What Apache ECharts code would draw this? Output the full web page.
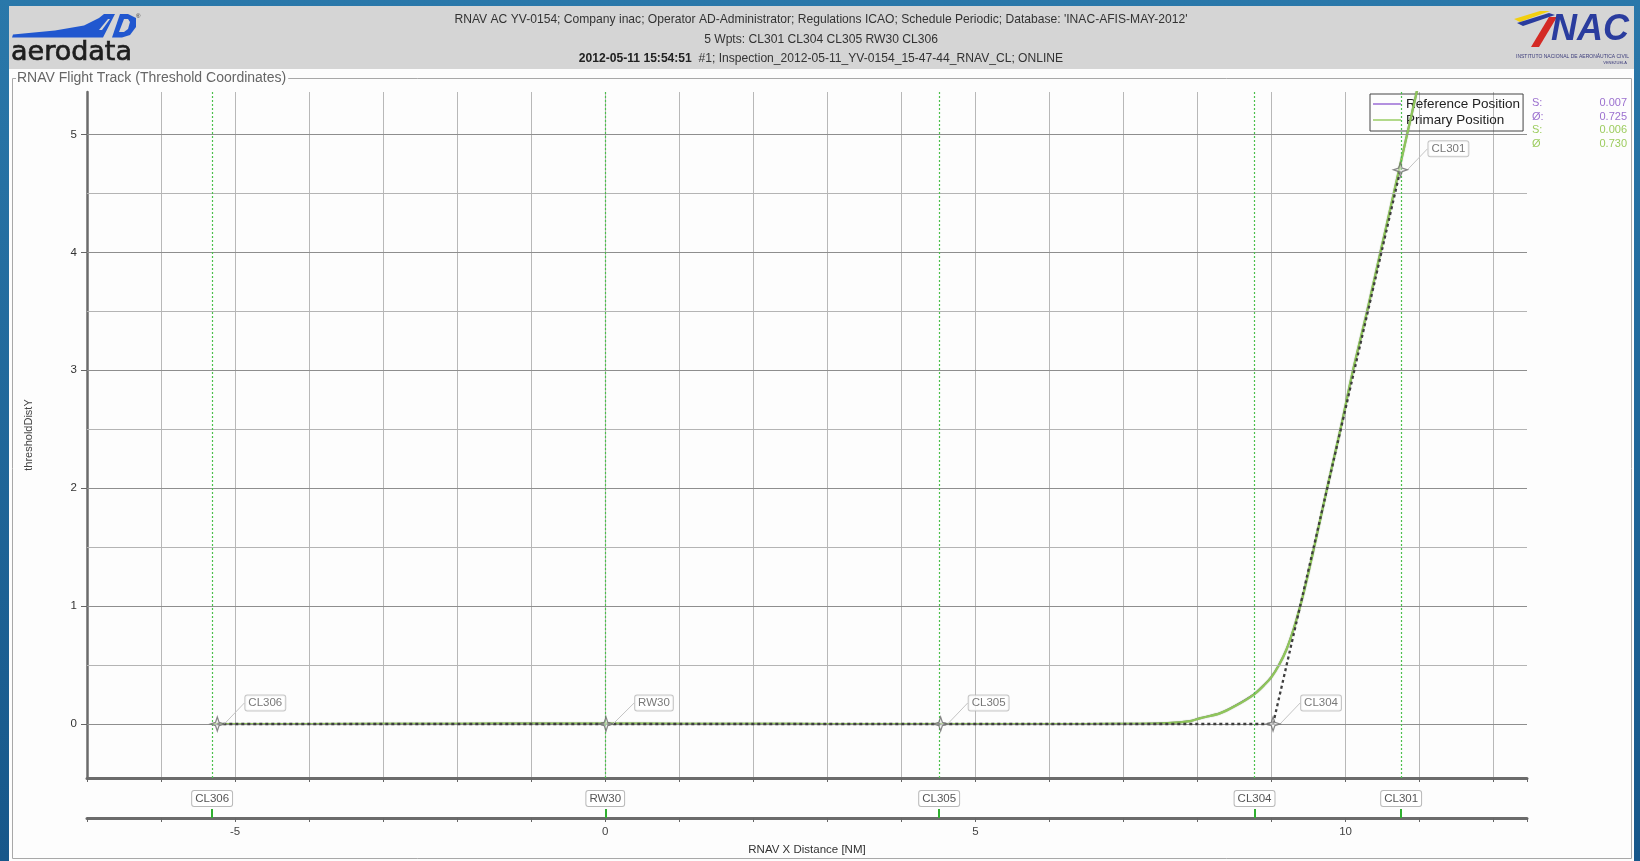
<!DOCTYPE html>
<html><head><meta charset="utf-8">
<script src="https://cdn.jsdelivr.net/npm/echarts@6.0.0/dist/echarts.min.js"></script>
<style>html,body{margin:0;padding:0;background:#1d6496;overflow:hidden}#c{width:1640px;height:861px;}</style>
</head><body><div id="c"></div><script>
// ---------- data ----------
const waypointNames = ['CL306', 'RW30', 'CL305', 'CL304', 'CL301'];
const waypointX = [-5.24, 0.01, 4.53, 9.02, 10.74];
const waypointY = [0, 0, 0, 0, 4.70];
const waypointLineX = [-5.31, 0.0, 4.51, 8.77, 10.75];

const primaryX = [-5.30, -4, -2, -1, 0, 1, 2, 3, 4.5, 5.5, 6.5, 7.2, 7.6, 7.9, 8.04, 8.3, 8.5, 8.76, 8.9, 9.0, 9.1, 9.2, 9.3, 9.4, 9.5, 9.6, 9.75, 9.93, 10.10, 10.29, 10.47, 10.65, 10.83, 10.96, 11.02];
const primaryY = [0, 0, 0.002, 0.004, 0.003, 0.002, 0.001, 0, 0, 0, 0, 0.002, 0.008, 0.025, 0.05, 0.09, 0.15, 0.25, 0.33, 0.40, 0.50, 0.63, 0.81, 1.03, 1.29, 1.57, 2.0, 2.5, 3.0, 3.5, 4.0, 4.5, 5.0, 5.36, 5.55];
const referenceX = [-5.30, -4, -2, -1, 0, 1, 2, 3, 4.5, 5.5, 6.5, 7.2, 7.6, 7.9, 8.04, 8.3, 8.5, 8.76, 8.9, 9.0, 9.1, 9.2, 9.3, 9.4, 9.5, 9.6, 9.75, 9.93, 10.10, 10.29, 10.47, 10.65, 10.83, 10.96, 11.02];
const referenceY = [0, 0, 0.002, 0.005, 0.003, 0.002, 0.001, 0, 0, 0, 0, 0.002, 0.009, 0.027, 0.052, 0.092, 0.155, 0.255, 0.335, 0.405, 0.505, 0.635, 0.815, 1.035, 1.29, 1.57, 2.0, 2.5, 3.0, 3.5, 4.0, 4.5, 5.0, 5.36, 5.55];

const yTickValues = [0, 1, 2, 3, 4, 5];
const yGridValues = [0, 0.5, 1, 1.5, 2, 2.5, 3, 3.5, 4, 4.5, 5];
const xLabelValues = [-5, 0, 5, 10];

const statLabels = ['S:', 'Ø:', 'S:', 'Ø'];
const statValues = ['0.007', '0.725', '0.006', '0.730'];
const statColors = ['#9b70cf', '#9b70cf', '#9ccc5e', '#9ccc5e'];

const headerLine1 = "RNAV AC YV-0154; Company inac; Operator AD-Administrator; Regulations ICAO; Schedule Periodic; Database: 'INAC-AFIS-MAY-2012'";
const headerLine2 = '5 Wpts: CL301 CL304 CL305 RW30 CL306';
const headerLine3a = '2012-05-11 15:54:51';
const headerLine3b = '  #1; Inspection_2012-05-11_YV-0154_15-47-44_RNAV_CL; ONLINE';
const panelTitle = 'RNAV Flight Track (Threshold Coordinates)';

// ---------- chart ----------
const FONT = "'Liberation Sans', Arial, sans-serif";
const chart = echarts.init(document.getElementById('c'), null, {renderer: 'canvas'});
const zip = (xs, ys) => xs.map((x, i) => [x, ys[i]]);
const starPath = 'path://M0,-10 L2.5,-2.5 L10,0 L2.5,2.5 L0,10 L-2.5,2.5 L-10,0 L-2.5,-2.5 Z';
const XMIN = -7, XMAX = 12.45, YMIN = -0.458, YMAX = 5.36;

const statGraphics = [];
statLabels.forEach((s, i) => {
  statGraphics.push({type: 'text', z: 20, style: {text: s, x: 1532, y: 103 + i * 13.6, fill: statColors[i], font: '11px ' + FONT, textVerticalAlign: 'middle'}});
  statGraphics.push({type: 'text', z: 20, style: {text: statValues[i], x: 1627, y: 103 + i * 13.6, fill: statColors[i], font: '11px ' + FONT, textAlign: 'right', textVerticalAlign: 'middle'}});
});

const option = {
  animation: false,
  textStyle: {fontFamily: FONT},
  grid: {left: 87, top: 92, width: 1440, height: 693, containLabel: false},
  legend: {
    data: ['Reference Position', 'Primary Position'],
    orient: 'vertical', left: 1370, top: 94,
    icon: 'path://M0,0 L30,0 L30,1.6 L0,1.6 Z',
    itemWidth: 28, itemHeight: 1.6, itemGap: 2,
    padding: [3, 3, 4, 3],
    borderColor: '#444', borderWidth: 1,
    textStyle: {fontSize: 13.5, color: '#222', fontFamily: FONT},
    selectedMode: false
  },
  xAxis: [
    {
      type: 'value', gridIndex: 0, min: XMIN, max: XMAX, interval: 1, position: 'bottom',
      axisLine: {onZero: false, lineStyle: {color: '#6b6b6b', width: 3}},
      axisTick: {show: true, length: 4, lineStyle: {color: '#666'}},
      axisLabel: {show: false},
      splitLine: {show: true, showMinLine: false, showMaxLine: false, lineStyle: {color: '#b8b8b8', width: 1}}
    },
    {
      type: 'value', gridIndex: 0, min: XMIN, max: XMAX, interval: 1, position: 'bottom', offset: 40,
      axisLine: {onZero: false, lineStyle: {color: '#6b6b6b', width: 3}},
      axisTick: {show: true, length: 4, lineStyle: {color: '#666'}},
      axisLabel: {show: true, margin: 8, fontSize: 11.5, color: '#444',
        formatter: v => (xLabelValues.indexOf(v) >= 0 ? String(v) : '')},
      splitLine: {show: false},
      name: 'RNAV X Distance [NM]', nameLocation: 'middle', nameGap: 26,
      nameTextStyle: {fontSize: 11.5, color: '#333'}
    },
    {
      type: 'value', gridIndex: 0, min: XMIN, max: XMAX, position: 'bottom', offset: 40,
      axisLine: {show: false, onZero: false},
      axisTick: {show: true, inside: true, length: 9, customValues: waypointLineX, lineStyle: {color: '#2fae2f', width: 2}},
      axisLabel: {show: true, inside: true, margin: 12, customValues: waypointLineX,
        formatter: v => { const i = waypointLineX.findIndex(x => Math.abs(x - v) < 1e-6); return i >= 0 ? waypointNames[i] : ''; },
        backgroundColor: '#fff', borderColor: '#b8b8b8', borderWidth: 1, borderRadius: 2,
        padding: [2, 3, 1, 3], fontSize: 11.5, color: '#555'},
      splitLine: {show: false}
    }
  ],
  yAxis: {
    type: 'value', min: YMIN, max: YMAX,
    axisLine: {onZero: false, lineStyle: {color: '#6b6b6b', width: 2.5}},
    axisTick: {show: true, length: 6, customValues: yTickValues, lineStyle: {color: '#666'}},
    axisLabel: {show: true, margin: 10, customValues: yTickValues, fontSize: 11.5, color: '#333'},
    splitLine: {show: false},
    name: 'thresholdDistY', nameLocation: 'middle', nameGap: 53,
    nameTextStyle: {fontSize: 11, color: '#444'}
  },
  series: [
    {
      name: 'gridlines', type: 'line', data: [], silent: true, z: 1,
      markLine: {
        silent: true, symbol: ['none', 'none'], label: {show: false}, animation: false,
        data: yGridValues.map(v => ({yAxis: v, lineStyle: {color: (v % 1 === 0) ? '#8e8e8e' : '#b4b4b4', width: 1, type: 'solid'}}))
      }
    },
    {
      name: 'wptlines', type: 'line', data: [], silent: true, z: 2,
      markLine: {
        silent: true, symbol: ['none', 'none'], label: {show: false}, animation: false,
        lineStyle: {color: '#4cc04c', width: 1.2, type: [2, 2]},
        data: waypointLineX.map(v => ({xAxis: v}))
      }
    },
    {
      name: 'Reference Position', type: 'line', data: zip(referenceX, referenceY),
      symbol: 'none', smooth: 0.3, z: 3, color: '#9a6bd4',
      lineStyle: {color: '#8a5fc4', width: 1.2}
    },
    {
      name: 'Primary Position', type: 'line', data: zip(primaryX, primaryY),
      symbol: 'none', smooth: 0.3, z: 4, color: '#98cc62',
      lineStyle: {color: '#8fc65a', width: 2.2, shadowColor: 'rgba(60,90,40,0.6)', shadowBlur: 1}
    },
    {
      name: 'nominal', type: 'line', data: zip(waypointX, waypointY),
      symbol: 'none', z: 5, lineStyle: {color: '#3e3e3e', width: 2.3, type: [3, 3]}
    },
    {
      name: 'waypoints', type: 'scatter', data: zip(waypointX, waypointY), z: 6,
      symbol: starPath, symbolSize: 14,
      itemStyle: {color: 'rgba(235,235,235,0.6)', borderColor: '#6a6a6a', borderWidth: 1.2},
      label: {show: true, position: 'inside', formatter: p => waypointNames[p.dataIndex],
        backgroundColor: '#fff', borderColor: '#b8b8b8', borderWidth: 1, borderRadius: 2,
        padding: [2, 3, 1, 3], fontSize: 11.5, color: '#555'},
      labelLayout: {dx: 48, dy: -21},
      labelLine: {show: true, lineStyle: {color: '#c4c4c4', width: 1}}
    }
  ],
  graphic: [
    {type: 'rect', z: -100, silent: true, shape: {x: 0, y: 0, width: 1640, height: 861},
      style: {fill: {type: 'linear', x: 0, y: 0, x2: 0, y2: 1, colorStops: [{offset: 0, color: '#2a78aa'}, {offset: 1, color: '#17578a'}]}}},
    {type: 'rect', z: -99, silent: true, shape: {x: 9, y: 6, width: 1625, height: 63}, style: {fill: '#d5d5d5'}},
    {type: 'rect', z: -99, silent: true, shape: {x: 9, y: 69, width: 1625, height: 792}, style: {fill: '#fdfdfd'}},
    {type: 'rect', z: -98, silent: true, shape: {x: 12.5, y: 78.5, width: 1619, height: 780}, style: {fill: 'none', stroke: '#a8a8a8', lineWidth: 1}},
    {type: 'text', z: -97, silent: true, style: {text: panelTitle, x: 16, y: 78.5, fill: '#666', font: '14px ' + FONT, textVerticalAlign: 'middle', backgroundColor: '#fdfdfd', padding: [0, 2, 0, 1]}},
    // header text
    {type: 'text', z: 10, silent: true, style: {text: headerLine1, x: 821, y: 20, fill: '#333', font: '12.1px ' + FONT, textAlign: 'center', textVerticalAlign: 'middle'}},
    {type: 'text', z: 10, silent: true, style: {text: headerLine2, x: 821, y: 39.5, fill: '#333', font: '12.1px ' + FONT, textAlign: 'center', textVerticalAlign: 'middle'}},
    {type: 'text', z: 10, silent: true, style: {text: '{b|' + headerLine3a + '}{n|' + headerLine3b + '}', x: 821, y: 58.5, textAlign: 'center', textVerticalAlign: 'middle',
      rich: {b: {fontWeight: 'bold', fontSize: 12.1, fill: '#222', fontFamily: FONT}, n: {fontSize: 12.1, fill: '#333', fontFamily: FONT}}}},
    // aerodata logo
    {type: 'polygon', z: 10, silent: true, shape: {points: [[12, 37.5], [13, 34.5], [55, 30.5], [84, 25.5], [99, 18], [104, 14], [115, 14], [103, 37.5]]}, style: {fill: '#2157cf'}},
    {type: 'polygon', z: 11, silent: true, shape: {points: [[99, 30], [108, 19], [110, 19], [102, 30]]}, style: {fill: '#d5d5d5'}},
    {type: 'polygon', z: 10, silent: true, shape: {points: [[112, 37.5], [120, 14], [128, 14], [136, 18], [136, 27], [130, 35], [122, 37.5]]}, style: {fill: '#2157cf'}},
    {type: 'polygon', z: 11, silent: true, shape: {points: [[119, 32], [124, 19], [128, 19], [130, 22], [128, 29], [124, 32]]}, style: {fill: '#d5d5d5'}},
    {type: 'text', z: 10, silent: true, style: {text: '®', x: 136, y: 13, fill: '#333', font: '6px ' + FONT}},
    {type: 'text', z: 10, silent: true, style: {text: 'aerodata', x: 11, y: 52.5, fill: '#1e1e1e', stroke: '#1e1e1e', lineWidth: 0.7, font: '27px "DejaVu Sans", sans-serif', textVerticalAlign: 'middle'}},
    // INAC logo
    {type: 'polygon', z: 10, silent: true, shape: {points: [[1514, 19], [1540, 11], [1550, 11], [1520, 22]]}, style: {fill: '#f2cf10'}},
    {type: 'polygon', z: 10, silent: true, shape: {points: [[1517, 23], [1549, 13], [1555, 15], [1523, 26]]}, style: {fill: '#2a3c9e'}},
    {type: 'polygon', z: 10, silent: true, shape: {points: [[1531, 47], [1549, 17], [1557, 17], [1539, 47]]}, style: {fill: '#d42a24'}},
    {type: 'text', z: 10, silent: true, style: {text: 'NAC', x: 1551, y: 48, fill: '#2a3c9e', font: 'italic bold 36px ' + FONT, textVerticalAlign: 'bottom'}},
    {type: 'text', z: 10, silent: true, style: {text: 'INSTITUTO NACIONAL DE AERONÁUTICA CIVIL', x: 1516, y: 57, fill: '#3b3b7a', font: '5px ' + FONT, textVerticalAlign: 'middle'}},
    {type: 'text', z: 10, silent: true, style: {text: 'VENEZUELA', x: 1627, y: 63, fill: '#3b3b7a', font: '4px ' + FONT, textAlign: 'right', textVerticalAlign: 'middle'}}
  ].concat(statGraphics)
};
chart.setOption(option);
</script></body></html>
